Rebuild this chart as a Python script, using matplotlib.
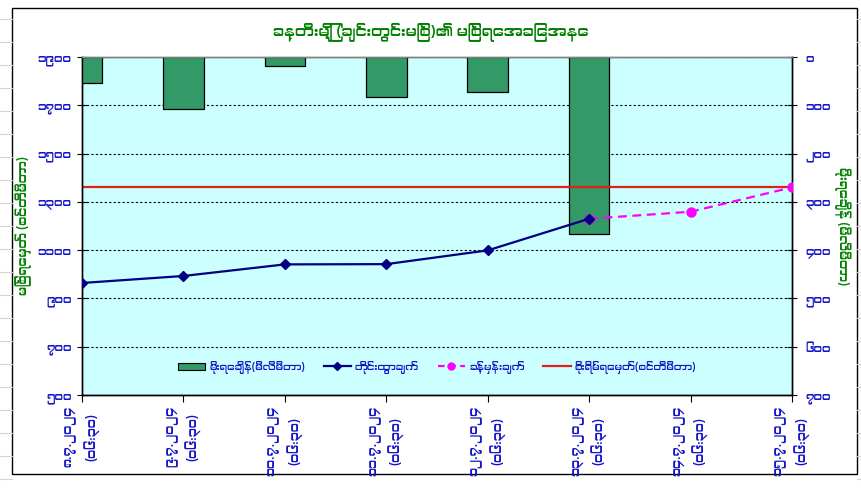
import matplotlib
matplotlib.use('Agg')
import matplotlib.pyplot as plt
from matplotlib import font_manager
from matplotlib.lines import Line2D
from matplotlib.patches import Rectangle

# --- data ---
dates = ["၈.၇.၂၀၂၄", "၉.၇.၂၀၂၄", "၁၀.၇.၂၀၂၄", "၁၁.၇.၂၀၂၄",
         "၁၂.၇.၂၀၂၄", "၁၃.၇.၂၀၂၄", "၁၄.၇.၂၀၂၄", "၁၅.၇.၂၀၂၄"]
obs_time = "(၀၆:၃၀)"
rainfall = [54, 108, 19, 83, 73, 367]            # mm, first six days
observed = [964, 993, 1041, 1042, 1099, 1230]    # cm, first six days
forecast = [1230, 1259, 1360]                    # cm, days 6..8
danger_level = 1360                              # cm

level_ticks = [500, 700, 900, 1100, 1300, 1500, 1700, 1900]
level_tick_labels = ["၅၀၀", "၇၀၀", "၉၀၀", "၁၁၀၀", "၁၃၀၀", "၁၅၀၀", "၁၇၀၀", "၁၉၀၀"]
rain_ticks = [0, 100, 200, 300, 400, 500, 600, 700]
rain_tick_labels = ["၀", "၁၀၀", "၂၀၀", "၃၀၀", "၄၀၀", "၅၀၀", "၆၀၀", "၇၀၀"]

title = "ခန္တီးမြို့ (ချင်းတွင်းမြစ်)၏ မြစ်ရေအခြေအနေ"
left_label = "မြစ်ရေမှတ် (စင်တီမီတာ)"
right_label = "မိုးရေချိန် (မီလီမီတာ)"
legend_labels = ["မိုးရေချိန်(မီလီမီတာ)", "တိုင်းထွာချက်",
                 "ခန့်မှန်းချက်", "စိုးရိမ်ရေမှတ်(စင်တီမီတာ)"]

# use a Myanmar-capable font if one happens to be installed
families = []
for f in font_manager.fontManager.ttflist:
    if 'myanmar' in f.name.lower() or 'padauk' in f.name.lower():
        families.append(f.name)
        break
plt.rcParams['font.family'] = families + ['DejaVu Sans']

GREEN = '#008000'
BLUE = '#1414C8'

W, H = 862, 488
fig = plt.figure(figsize=(W / 100, H / 100), dpi=100)
fig.patch.set_facecolor('white')

# faint spreadsheet cell lines around the chart, plus the chart border
for y in range(19, H, 23):
    fig.add_artist(Line2D([0, 12 / W], [1 - y / H] * 2, color='#D4D4D4', lw=0.8))
    fig.add_artist(Line2D([857 / W, 1], [1 - y / H] * 2, color='#D4D4D4', lw=0.8))
fig.add_artist(Rectangle((12 / W, 1 - 474 / H), 845 / W, 466 / H,
                         fill=False, edgecolor='black', lw=1.0))

left, right, top, bottom = 82, 792, 57, 395
ax = fig.add_axes([left / W, 1 - bottom / H, (right - left) / W, (bottom - top) / H])
ax2 = ax.twinx()

# rainfall bars hang from the top on the right axis, drawn underneath
ax2.set_zorder(1)
ax.set_zorder(2)
ax.patch.set_visible(False)
ax2.patch.set_visible(True)
ax2.patch.set_facecolor('#CCFFFF')

x_rain = list(range(len(rainfall)))
ax2.bar(x_rain, rainfall, width=0.4, color='#339966', edgecolor='black', lw=0.9, zorder=3)
ax2.set_ylim(700, 0)
ax2.set_yticks(rain_ticks)
ax2.set_yticklabels(rain_tick_labels)
ax2.grid(axis='y', color='black', linestyle=(0, (2, 2)), lw=0.8, zorder=0)
ax2.set_axisbelow(True)

x_obs = list(range(len(observed)))
x_fc = list(range(len(observed) - 1, len(observed) - 1 + len(forecast)))
ax.axhline(danger_level, color='#E0201B', lw=1.6, zorder=2)
ax.plot(x_fc, forecast, color='#FF00FF', lw=1.6, linestyle=(0, (4, 2.5)),
        marker='o', ms=6.5, zorder=3)
ax.plot(x_obs, observed, color='#000080', lw=1.6, marker='D', ms=5, zorder=4)

ax.set_xlim(0, len(dates) - 1)
ax.set_ylim(500, 1900)
ax.set_yticks(level_ticks)
ax.set_yticklabels(level_tick_labels)
ax.set_xticks(range(len(dates)))
ax.set_xticklabels([d + "\n" + obs_time for d in dates], rotation=90,
                   va='top', ha='center', linespacing=1.6)

for a in (ax, ax2):
    for s in a.spines.values():
        s.set_color('black')
        s.set_linewidth(1.0)
    a.spines['top'].set_color('#808080')
ax.tick_params(axis='y', direction='inout', length=7, colors='black',
               labelcolor=BLUE, labelsize=8.5, pad=4)
ax2.tick_params(axis='y', direction='inout', length=7, colors='black',
                labelcolor=BLUE, labelsize=8.5, pad=6)
ax.tick_params(axis='x', direction='out', length=5, colors='black',
               labelcolor=BLUE, labelsize=9, pad=3)

ax.set_ylabel(left_label, color=GREEN, fontsize=9, labelpad=4)
ax2.set_ylabel(right_label, color=GREEN, fontsize=9, rotation=270, labelpad=14)
fig.text(0.5, 1 - 32 / H, title, color=GREEN, fontsize=11, fontweight='bold',
         ha='center', va='center')

handles = [
    Rectangle((0, 0), 1, 1, facecolor='#339966', edgecolor='black', lw=0.8),
    Line2D([], [], color='#000080', lw=1.6, marker='D', ms=4),
    Line2D([], [], color='#FF00FF', lw=1.6, linestyle=(0, (3, 2)), marker='o', ms=5),
    Line2D([], [], color='#E0201B', lw=1.6),
]
leg = ax.legend(handles, legend_labels, loc='lower center', bbox_to_anchor=(0.5, 0.035),
                ncol=4, frameon=False, fontsize=7.5, handlelength=2.6,
                columnspacing=1.8, handletextpad=0.4)
for t in leg.get_texts():
    t.set_color(BLUE)

fig.savefig('out.png', dpi=100)
